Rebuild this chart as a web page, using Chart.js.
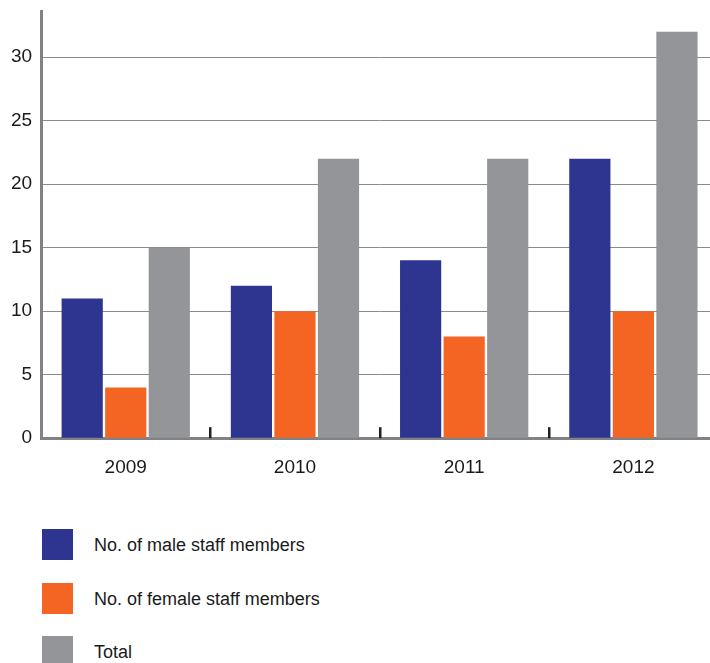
<!DOCTYPE html>
<html>
<head>
<meta charset="utf-8">
<script src="https://cdn.jsdelivr.net/npm/chart.js@4"></script>
<style>
  html, body { margin: 0; padding: 0; background: #fff; overflow: hidden; width: 710px; height: 663px; }
  #wrap { position: absolute; left: 0; top: -9px; width: 718px; height: 510px; }
  .legend { position: absolute; left: 42px; top: 529px; font-family: "Liberation Sans", Arial, sans-serif; font-size: 18px; color: #1a1a1a; }
  .legend div { height: 53.5px; display: flex; align-items: flex-start; }
  .legend span.box { width: 31px; height: 31px; margin-right: 21px; }
  .legend span.txt { line-height: 33px; }
</style>
</head>
<body>
<div id="wrap"><canvas id="myChart" width="718" height="510"></canvas></div>
<div class="legend" id="legend"></div>
<script>
var years = ['2009', '2010', '2011', '2012'];
var male = [11, 12, 14, 22];
var female = [4, 10, 8, 10];
var total = [15, 22, 22, 32];
var seriesNames = ['No. of male staff members', 'No. of female staff members', 'Total'];
var seriesColors = ['#2d3590', '#f46524', '#939598'];
var yTicks = [0, 5, 10, 15, 20, 25, 30];

var fontFam = '"Liberation Sans", Arial, sans-serif';

// little black marks between the year groups
var groupMarks = {
  id: 'groupMarks',
  afterDatasetsDraw: function(chart) {
    var x = chart.scales.x, y = chart.scales.y, c = chart.ctx;
    c.save();
    c.fillStyle = '#231f20';
    for (var i = 0; i < years.length - 1; i++) {
      var px = (x.getPixelForTick(i) + x.getPixelForTick(i + 1)) / 2;
      c.fillRect(Math.round(px) - 1, y.bottom - 11, 2.5, 11);
    }
    c.restore();
  }
};

var ctx = document.getElementById('myChart').getContext('2d');
var myChart = new Chart(ctx, {
  type: 'bar',
  data: {
    labels: years,
    datasets: [male, female, total].map(function(d, i) {
      return {
        label: seriesNames[i],
        data: d,
        backgroundColor: seriesColors[i],
        borderWidth: 0,
        barPercentage: 0.946,
        categoryPercentage: 0.772
      };
    })
  },
  options: {
    responsive: false,
    animation: false,
    layout: { padding: { left: 2, top: 0, right: 0, bottom: 4 } },
    plugins: { legend: { display: false }, tooltip: { enabled: false } },
    scales: {
      x: {
        grid: { display: false, drawTicks: false },
        border: { color: '#808285', width: 3 },
        ticks: { color: '#1a1a1a', padding: 18, font: { family: fontFam, size: 19 } }
      },
      y: {
        min: 0,
        max: 33.6,
        afterBuildTicks: function(s) { s.ticks = yTicks.map(function(v) { return { value: v }; }); },
        grid: { color: '#8a8a8c', lineWidth: 1, drawTicks: false },
        border: { color: '#808285', width: 3 },
        ticks: { color: '#1a1a1a', padding: 9, font: { family: fontFam, size: 19 } }
      }
    }
  },
  plugins: [groupMarks]
});

var lg = document.getElementById('legend');
seriesNames.forEach(function(n, i) {
  var row = document.createElement('div');
  row.innerHTML = '<span class="box" style="background:' + seriesColors[i] + '"></span><span class="txt">' + n + '</span>';
  lg.appendChild(row);
});
</script>
</body>
</html>
